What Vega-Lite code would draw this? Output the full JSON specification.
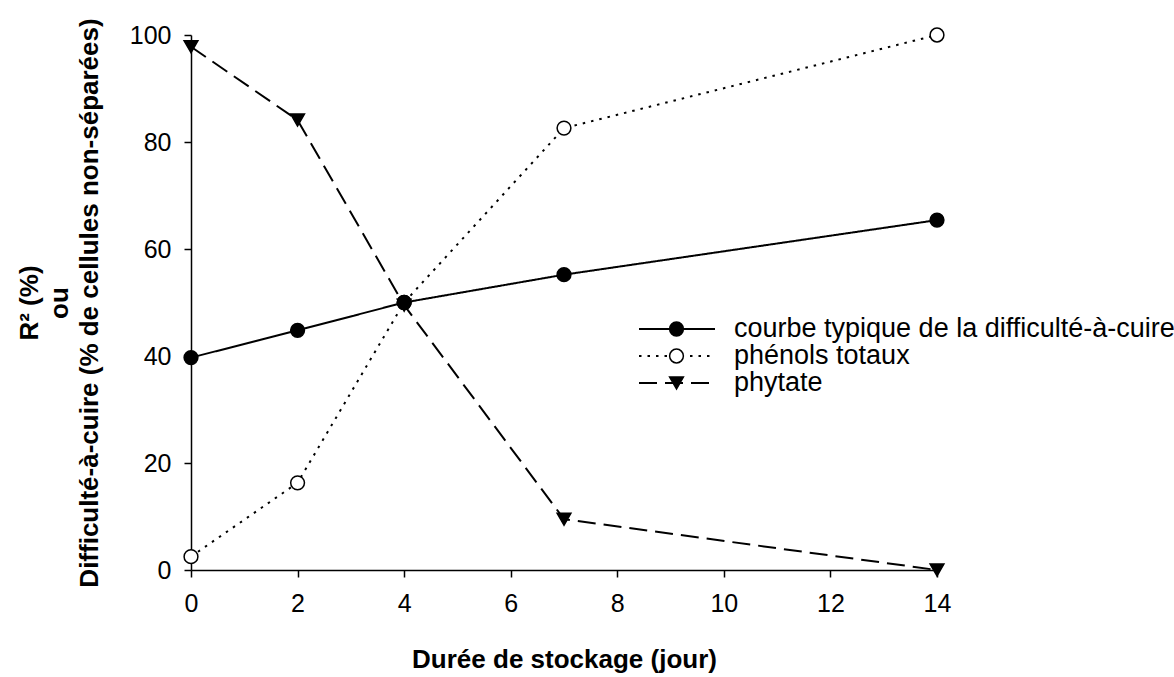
{
  "$schema": "https://vega.github.io/schema/vega-lite/v6.json",
  "width": 746,
  "height": 535,
  "autosize": "none",
  "padding": {"left": 191, "top": 35, "right": 237, "bottom": 107},
  "background": "white",
  "config": {
    "view": {"stroke": null},
    "font": "Liberation Sans",
    "axis": {
      "grid": false,
      "domainColor": "black",
      "domainWidth": 1.5,
      "tickColor": "black",
      "tickWidth": 1.5,
      "tickSize": 7,
      "labelFlush": false,
      "labelFont": "Liberation Sans",
      "labelFontSize": 25,
      "labelColor": "black",
      "titleFont": "Liberation Sans",
      "titleFontSize": 26,
      "titleFontWeight": "bold",
      "titleColor": "black"
    }
  },
  "data": {
    "values": [
      {"jour": 0, "serie": "phénols totaux", "valeur": 2.5},
      {"jour": 2, "serie": "phénols totaux", "valeur": 16.3},
      {"jour": 4, "serie": "phénols totaux", "valeur": 50.0},
      {"jour": 7, "serie": "phénols totaux", "valeur": 82.6},
      {"jour": 14, "serie": "phénols totaux", "valeur": 100.0},
      {"jour": 0, "serie": "courbe typique de la difficulté-à-cuire", "valeur": 39.7},
      {"jour": 2, "serie": "courbe typique de la difficulté-à-cuire", "valeur": 44.8},
      {"jour": 4, "serie": "courbe typique de la difficulté-à-cuire", "valeur": 50.0},
      {"jour": 7, "serie": "courbe typique de la difficulté-à-cuire", "valeur": 55.2},
      {"jour": 14, "serie": "courbe typique de la difficulté-à-cuire", "valeur": 65.4},
      {"jour": 0, "serie": "phytate", "valeur": 97.8},
      {"jour": 2, "serie": "phytate", "valeur": 84.1},
      {"jour": 4, "serie": "phytate", "valeur": 49.5},
      {"jour": 7, "serie": "phytate", "valeur": 9.5},
      {"jour": 14, "serie": "phytate", "valeur": 0.0}
    ]
  },
  "layer": [
    {
      "mark": {"type": "line", "color": "black", "strokeWidth": 2, "strokeCap": "butt"},
      "encoding": {
        "x": {
          "field": "jour", "type": "quantitative",
          "scale": {"domain": [0, 14], "nice": false},
          "axis": {"values": [0, 2, 4, 6, 8, 10, 12, 14], "title": "Durée de stockage (jour)", "labelPadding": 14, "titlePadding": 30}
        },
        "y": {
          "field": "valeur", "type": "quantitative",
          "scale": {"domain": [0, 100], "nice": false},
          "axis": {"values": [0, 20, 40, 60, 80, 100], "title": ["R² (%)", "ou", "Difficulté-à-cuire (% de cellules non-séparées)"], "labelPadding": 13, "titlePadding": 27, "titleLineHeight": 30}
        },
        "strokeDash": {
          "field": "serie", "type": "nominal",
          "sort": ["courbe typique de la difficulté-à-cuire", "phénols totaux", "phytate"],
          "scale": {"range": [[1, 0], [2.5, 6], [18, 8]]},
          "legend": {
            "title": null, "orient": "none", "legendX": 447, "legendY": 281,
            "symbolType": "stroke", "symbolSize": 5776, "symbolStrokeWidth": 2, "symbolStrokeColor": "black",
            "labelFont": "Liberation Sans", "labelFontSize": 27, "labelColor": "black", "labelOffset": 18,
            "rowPadding": 0, "labelLimit": 0, "clipHeight": 26, "zindex": 0
          }
        }
      }
    },
    {
      "transform": [{"filter": "datum.valeur >= 0"}],
      "mark": {"type": "point", "stroke": "black", "strokeWidth": 1.5, "opacity": 1, "size": 190},
      "encoding": {
        "x": {"field": "jour", "type": "quantitative"},
        "y": {"field": "valeur", "type": "quantitative"},
        "shape": {
          "field": "serie", "type": "nominal",
          "scale": {"domain": ["courbe typique de la difficulté-à-cuire", "phénols totaux", "phytate"], "range": ["circle", "circle", "triangle-down"]},
          "legend": {
            "title": null, "orient": "none", "legendX": 472, "legendY": 281,
            "symbolSize": 190, "symbolStrokeWidth": 1.5,
            "labelFont": "Liberation Sans", "labelFontSize": 27, "labelOpacity": 0, "labelOffset": 18,
            "rowPadding": 0, "labelLimit": 0, "clipHeight": 26, "zindex": 2,
            "encode": {"symbols": {"stroke": {"value": "black"}, "strokeWidth": {"value": 1.5}, "strokeOpacity": {"value": 1}}}
          }
        },
        "fill": {
          "field": "serie", "type": "nominal",
          "scale": {"domain": ["courbe typique de la difficulté-à-cuire", "phénols totaux", "phytate"], "range": ["black", "white", "black"]},
          "legend": {
            "title": null, "orient": "none", "legendX": 472, "legendY": 281,
            "symbolSize": 190, "symbolStrokeWidth": 1.5,
            "labelFont": "Liberation Sans", "labelFontSize": 27, "labelOpacity": 0, "labelOffset": 18,
            "rowPadding": 0, "labelLimit": 0, "clipHeight": 26, "zindex": 2,
            "encode": {"symbols": {"stroke": {"value": "black"}, "strokeWidth": {"value": 1.5}, "strokeOpacity": {"value": 1}}}
          }
        }
      }
    }
  ]
}
